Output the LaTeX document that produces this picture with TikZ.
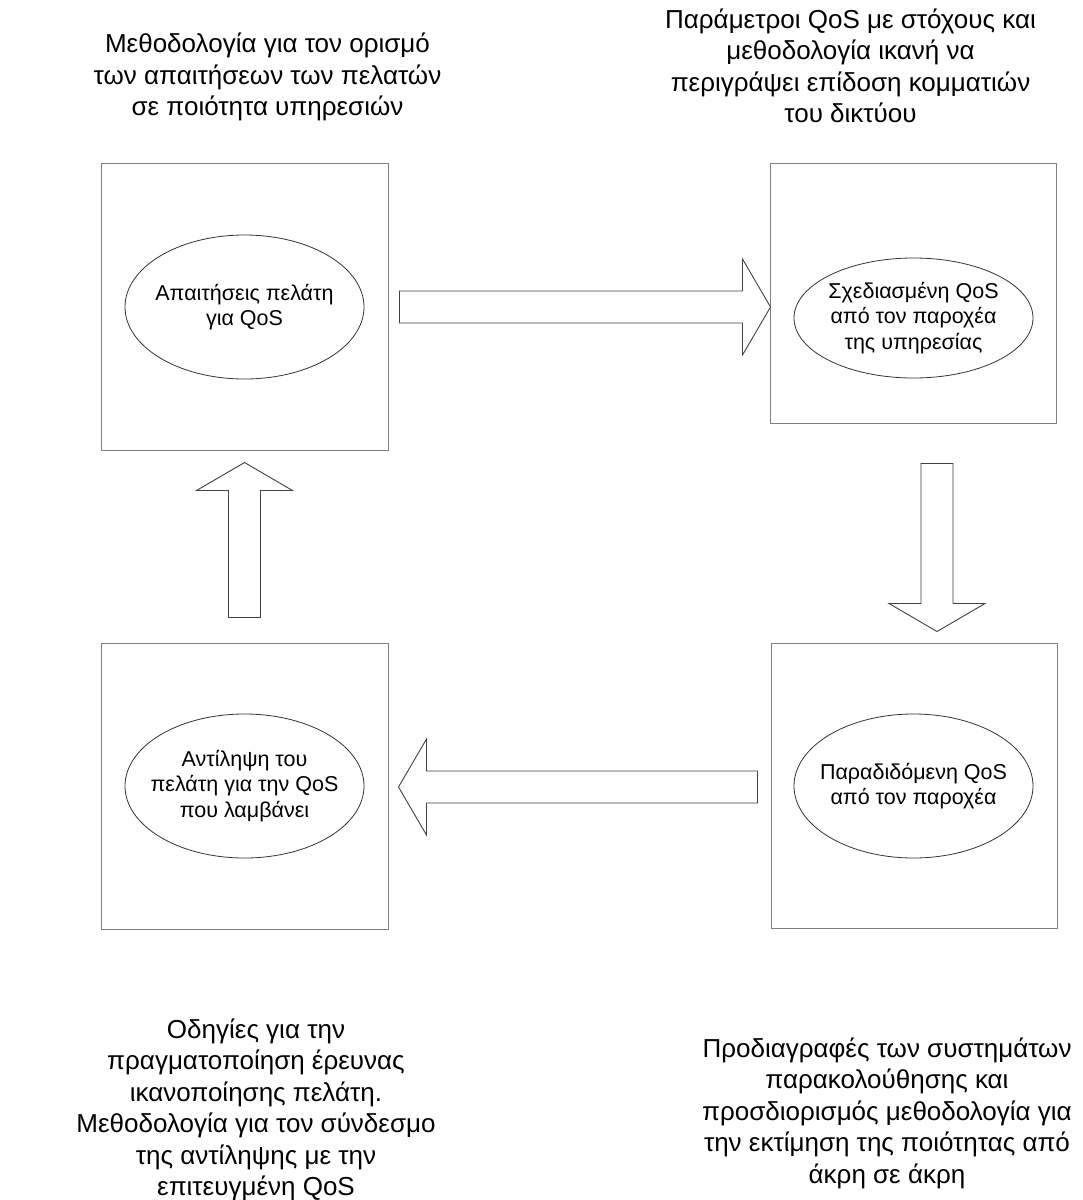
\documentclass[tikz,border=0pt]{standalone}
\usepackage{fontspec}
\setmainfont{Liberation Sans}
\usetikzlibrary{calc,shapes.geometric}
\begin{document}
\begin{tikzpicture}[x=1pt,y=-1pt,
  box/.style={draw=black!50,line width=1pt,fill=white,inner sep=0pt},
  oval/.style={draw=black!80,line width=0.8pt,ellipse,inner sep=0pt},
  ovaltext/.style={align=center,inner sep=0pt,font=\fontsize{21.5}{25.5}\selectfont},
  note/.style={align=center,inner sep=0pt,font=\fontsize{26}{31.5}\selectfont},
  pics/blockarrow/.style={code={
    \draw[draw=black!75,line width=0.9pt,fill=white,line join=miter]
      (0,-16) -- (#1-28,-16) -- (#1-28,-48) -- (#1,0) -- (#1-28,48)
      -- (#1-28,16) -- (0,16) -- cycle;}}]
\useasboundingbox (0,0) rectangle (1083,1200);

% four stage boxes
\node[box,minimum width=287pt,minimum height=287pt] (b1) at (244.5,306.5) {};
\node[box,minimum width=286pt,minimum height=260pt] (b2) at (913,293) {};
\node[box,minimum width=286pt,minimum height=285pt] (b3) at (914,785.5) {};
\node[box,minimum width=287pt,minimum height=286pt] (b4) at (244.5,786) {};

% ellipses inside the boxes, with their captions
\node[oval,minimum width=239pt,minimum height=144pt,
  label={[ovaltext]center:{Απαιτήσεις πελάτη\\για QoS}}] (e1) at (244.5,307) {};
\node[oval,minimum width=239pt,minimum height=120pt,
  label={[ovaltext]center:{Σχεδιασμένη QoS\\από τον παροχέα\\της υπηρεσίας}}] (e2) at (913.5,318) {};
\node[oval,minimum width=239pt,minimum height=144pt,
  label={[ovaltext]center:{Παραδιδόμενη QoS\\από τον παροχέα}}] (e3) at (913.5,786) {};
\node[oval,minimum width=239pt,minimum height=144pt,
  label={[ovaltext]center:{Αντίληψη του\\πελάτη για την QoS\\που λαμβάνει}}] (e4) at (244.5,786) {};

% block arrows between the boxes
\coordinate (t12) at ($(b1.east)+(11,0.5)$);
\pic at (t12) {blockarrow=371};
\coordinate (t23) at ($(b2.south)+(24,40)$);
\pic[rotate=-90] at (t23) {blockarrow=168};
\coordinate (t34) at ($(b3.west)+(-13,1.5)$);
\pic[rotate=180] at (t34) {blockarrow=359};
\coordinate (t41) at ($(b4.north)+(0,-25)$);
\pic[rotate=90] at (t41) {blockarrow=155};

% notes around the cycle
\node[note] (n1) at (267.5,77)
  {Μεθοδολογία για τον ορισμό\\των απαιτήσεων των πελατών\\σε ποιότητα υπηρεσιών};
\node[note] (n2) at (850.5,66)
  {Παράμετροι QoS με στόχους και\\μεθοδολογία ικανή να\\περιγράψει επίδοση κομματιών\\του δικτύου};
\node[note] (n3) at (256,1110)
  {Οδηγίες για την\\πραγματοποίηση έρευνας\\ικανοποίησης πελάτη.\\Μεθοδολογία για τον σύνδεσμο\\της αντίληψης με την\\επιτευγμένη QoS};
\node[note] (n4) at (887,1113)
  {Προδιαγραφές των συστημάτων\\παρακολούθησης και\\προσδιορισμός μεθοδολογία για\\την εκτίμηση της ποιότητας από\\άκρη σε άκρη};
\end{tikzpicture}
\end{document}
